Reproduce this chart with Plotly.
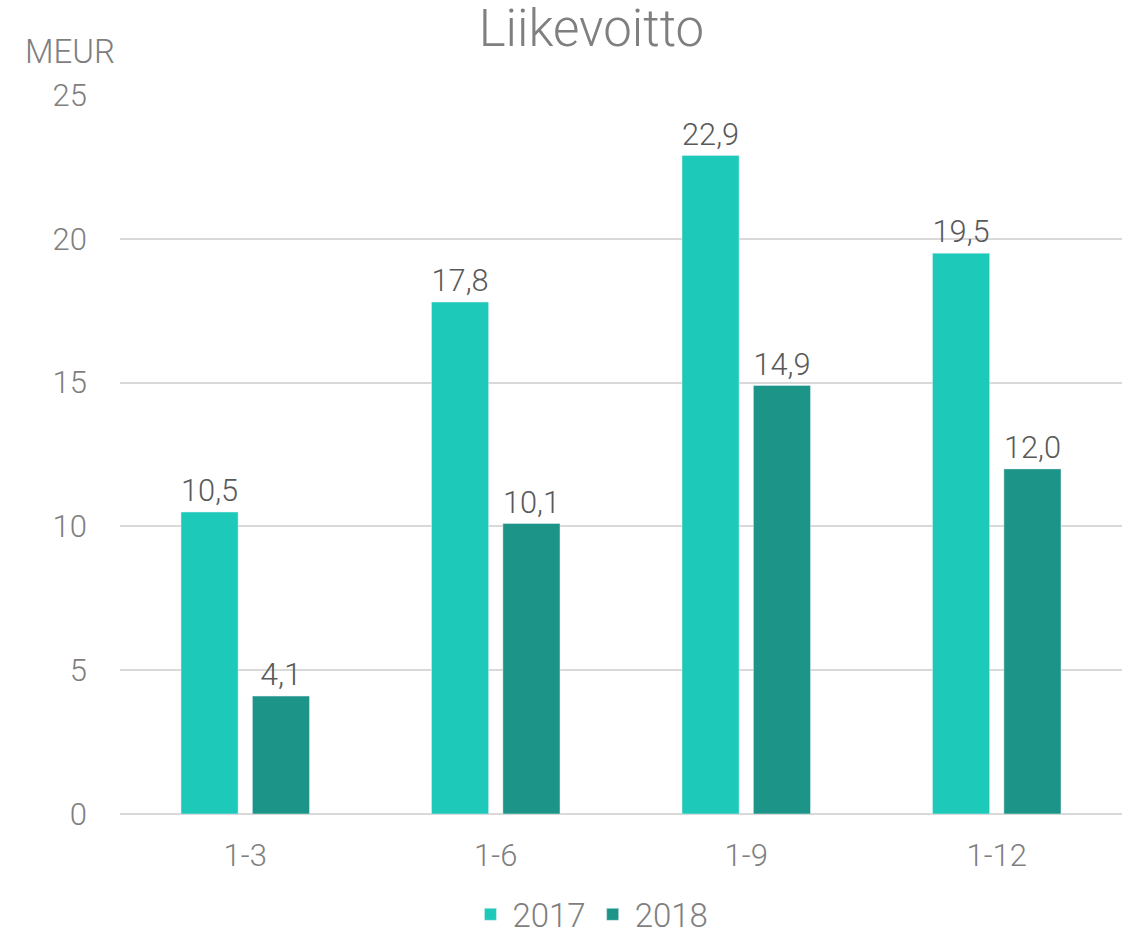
import plotly.graph_objects as go

categories = ["1-3", "1-6", "1-9", "1-12"]
values_2017 = [10.5, 17.8, 22.9, 19.5]
values_2018 = [4.1, 10.1, 14.9, 12.0]
y_ticks = [0, 5, 10, 15, 20, 25]

FONT = "Roboto, sans-serif"
GREY = "#7f7f7f"
LABEL = "#595959"


def fmt(vals):
    return [f"{v:.1f}".replace(".", ",") for v in vals]


fig = go.Figure()
fig.add_trace(go.Bar(
    name="2017", x=categories, y=values_2017,
    marker=dict(color="#1dc9b8"),
    text=fmt(values_2017), textposition="outside",
    textfont=dict(size=32, color=LABEL, family=FONT, weight=300),
    cliponaxis=False,
))
fig.add_trace(go.Bar(
    name="2018", x=categories, y=values_2018,
    marker=dict(color="#1c9488"),
    text=fmt(values_2018), textposition="outside",
    textfont=dict(size=32, color=LABEL, family=FONT, weight=300),
    cliponaxis=False,
))

fig.update_layout(
    width=1133, height=934,
    plot_bgcolor="white", paper_bgcolor="white",
    font=dict(family=FONT, color=GREY, size=31, weight=300),
    title=dict(text="Liikevoitto", x=0.522, xanchor="center", y=0.97, yanchor="middle",
               font=dict(size=51, color=GREY, family=FONT, weight=300)),
    barmode="group", bargap=0.43, bargroupgap=0.2,
    margin=dict(l=120, r=11, t=95, b=120),
    xaxis=dict(showgrid=False, showline=False, ticks="", ticklabelstandoff=20,
               automargin=False, tickfont=dict(size=31, color=GREY)),
    yaxis=dict(range=[0, 25], tickvals=y_ticks, showgrid=True, gridcolor="#d9d9d9",
               gridwidth=1.5, zeroline=True, zerolinecolor="#d9d9d9", zerolinewidth=1.5,
               ticks="", ticklabelstandoff=32, automargin=False,
               tickfont=dict(size=31, color=GREY)),
    legend=dict(orientation="h", x=0.47, xanchor="center",
                yref="container", y=0.021, yanchor="middle",
                font=dict(size=33, color=GREY), itemwidth=34, traceorder="normal"),
    annotations=[dict(text="MEUR", x=-0.05, y=1.06, xref="paper", yref="paper",
                      xanchor="center", yanchor="middle", showarrow=False,
                      font=dict(size=33, color=GREY))],
)

# drop the default 8px body margin so the figure fills the window exactly
fig.write_html("out.html", config={"displayModeBar": False},
               post_script="document.body.style.margin='0';")
